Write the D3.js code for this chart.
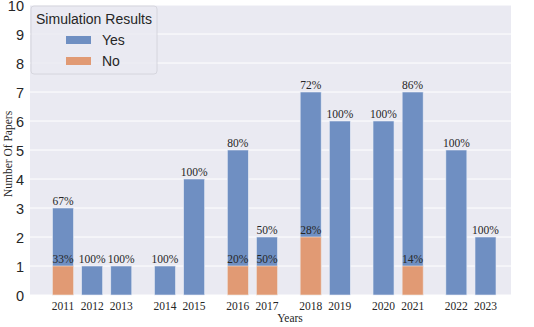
<!DOCTYPE html>
<html>
<head>
<meta charset="utf-8">
<script src="https://cdn.jsdelivr.net/npm/d3@7"></script>
<style>
  body { margin: 0; background: #fff; }
</style>
</head>
<body>
<div class="svg-container"></div>
<script>
// data
var years = ["2011", "2012", "2013", "2014", "2015", "2016", "2017", "2018", "2019", "2020", "2021", "2022", "2023"];
var groups = [0, 0, 0, 1, 1, 2, 2, 3, 3, 4, 4, 5, 5];
var totalPapers = [3, 1, 1, 1, 4, 5, 2, 7, 6, 6, 7, 5, 2];
var noPapers = [1, 0, 0, 0, 0, 1, 1, 2, 0, 0, 1, 0, 0];
var yesLabels = ["67%", "100%", "100%", "100%", "100%", "80%", "50%", "72%", "100%", "100%", "86%", "100%", "100%"];
var noLabels = ["33%", "", "", "", "", "20%", "50%", "28%", "", "", "14%", "", ""];
var yTicks = [0, 1, 2, 3, 4, 5, 6, 7, 8, 9, 10];

var width = 534;
var height = 327;
var plotLeft = 30, plotRight = 511, plotTop = 5, plotBottom = 295;
var serif = "'Liberation Serif', 'DejaVu Serif', serif";
var sans = "'Liberation Sans', Arial, sans-serif";

var svg = d3.select(".svg-container").append("svg")
    .attr("width", width)
    .attr("height", height);

// slot of each year: one step per bar, half a step between groups
var slot = years.map(function(d, i) { return i + 0.5 * groups[i]; });

var x = d3.scaleLinear()
    .domain([0, 14.5])
    .range([63, 485.5]);
var barW = 21;

var y = d3.scaleLinear()
    .domain([0, 10])
    .range([plotBottom, plotTop]);

// background
svg.append("rect")
    .attr("x", plotLeft)
    .attr("y", plotTop)
    .attr("width", plotRight - plotLeft)
    .attr("height", plotBottom - plotTop)
    .attr("fill", "#EAEAF2");

// grid
svg.append("g")
    .selectAll("line")
    .data(yTicks)
    .enter().append("line")
    .attr("x1", plotLeft)
    .attr("x2", plotRight)
    .attr("y1", function(d) { return y(d); })
    .attr("y2", function(d) { return y(d); })
    .attr("stroke", "#fff")
    .attr("stroke-width", 1);

// Y axis
var yAxis = svg.append("g")
    .attr("transform", "translate(" + plotLeft + ",0)")
    .call(d3.axisLeft(y).tickValues(yTicks).tickSize(0).tickPadding(6));
yAxis.select(".domain").remove();
yAxis.selectAll("text")
    .attr("dy", "0.4em")
    .style("font-family", sans)
    .style("font-size", "14.5px")
    .attr("fill", "#262626");

// X tick labels
svg.append("g")
    .selectAll("text")
    .data(years)
    .enter().append("text")
    .attr("x", function(d, i) { return x(slot[i]); })
    .attr("y", 310)
    .attr("text-anchor", "middle")
    .style("font-family", serif)
    .style("font-size", "11.5px")
    .attr("fill", "#262626")
    .text(function(d) { return d; });

// bars: total (yes) first, then no overlay
var rows = years.map(function(d, i) {
    return { year: d, slot: slot[i], total: totalPapers[i], no: noPapers[i], yl: yesLabels[i], nl: noLabels[i] };
});

svg.append("g")
    .selectAll("rect")
    .data(rows)
    .enter().append("rect")
    .attr("x", function(d) { return x(d.slot) - barW / 2; })
    .attr("y", function(d) { return y(d.total); })
    .attr("width", barW)
    .attr("height", function(d) { return y(0) - y(d.total); })
    .attr("fill", "#6F8FC2")
    .attr("stroke", "#E6ECF6")
    .attr("stroke-width", 0.6);

svg.append("g")
    .selectAll("rect")
    .data(rows.filter(function(d) { return d.no > 0; }))
    .enter().append("rect")
    .attr("x", function(d) { return x(d.slot) - barW / 2; })
    .attr("y", function(d) { return y(d.no); })
    .attr("width", barW)
    .attr("height", function(d) { return y(0) - y(d.no); })
    .attr("fill", "#E19A74")
    .attr("stroke", "#F6E9E2")
    .attr("stroke-width", 0.6);

// percent labels
svg.append("g")
    .selectAll("text")
    .data(rows)
    .enter().append("text")
    .attr("x", function(d) { return x(d.slot); })
    .attr("y", function(d) { return y(d.total) - 3; })
    .attr("text-anchor", "middle")
    .style("font-family", serif)
    .style("font-size", "11.5px")
    .attr("fill", "#262626")
    .text(function(d) { return d.yl; });

svg.append("g")
    .selectAll("text")
    .data(rows.filter(function(d) { return d.nl !== ""; }))
    .enter().append("text")
    .attr("x", function(d) { return x(d.slot); })
    .attr("y", function(d) { return y(d.no) - 3; })
    .attr("text-anchor", "middle")
    .style("font-family", serif)
    .style("font-size", "11.5px")
    .attr("fill", "#262626")
    .text(function(d) { return d.nl; });

// axis titles
svg.append("text")
    .attr("x", 290)
    .attr("y", 322)
    .attr("text-anchor", "middle")
    .style("font-family", serif)
    .style("font-size", "11.5px")
    .attr("fill", "#262626")
    .text("Years");

svg.append("text")
    .attr("transform", "rotate(-90)")
    .attr("x", -154)
    .attr("y", 12)
    .attr("text-anchor", "middle")
    .style("font-family", serif)
    .style("font-size", "11.5px")
    .attr("fill", "#262626")
    .text("Number Of Papers");

// legend
var legend = svg.append("g").attr("transform", "translate(31,6)");
legend.append("rect")
    .attr("width", 126)
    .attr("height", 68)
    .attr("rx", 3)
    .attr("fill", "#EAEAF2")
    .attr("fill-opacity", 0.85)
    .attr("stroke", "#D0D0D8")
    .attr("stroke-width", 0.8);
legend.append("text")
    .attr("x", 63)
    .attr("y", 18)
    .attr("text-anchor", "middle")
    .style("font-family", sans)
    .style("font-size", "14px")
    .attr("fill", "#262626")
    .text("Simulation Results");
var legendItems = [{ name: "Yes", color: "#6F8FC2" }, { name: "No", color: "#E19A74" }];
var li = legend.selectAll(".item")
    .data(legendItems)
    .enter().append("g")
    .attr("class", "item")
    .attr("transform", function(d, i) { return "translate(0," + (30 + i * 21) + ")"; });
li.append("rect")
    .attr("x", 35)
    .attr("y", 0)
    .attr("width", 25)
    .attr("height", 8)
    .attr("fill", function(d) { return d.color; });
li.append("text")
    .attr("x", 71)
    .attr("y", 9)
    .style("font-family", sans)
    .style("font-size", "14px")
    .attr("fill", "#262626")
    .text(function(d) { return d.name; });
</script>
</body>
</html>
